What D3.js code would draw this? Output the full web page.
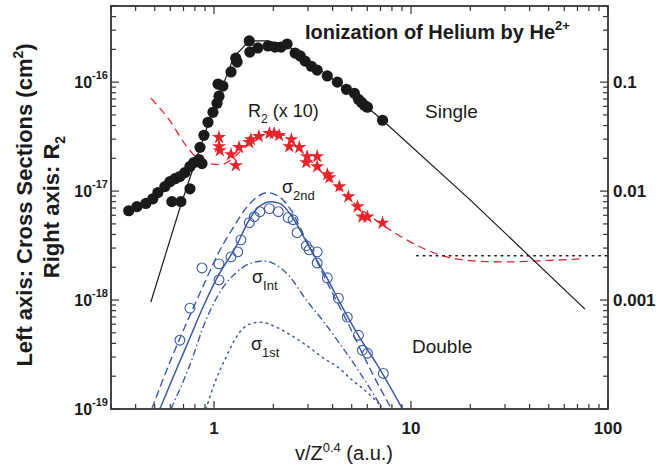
<!DOCTYPE html>
<html><head><meta charset="utf-8">
<script src="https://cdn.jsdelivr.net/npm/d3@7"></script>
<style>
body{margin:0;background:#fff;}
svg{display:block;font-family:"Liberation Sans",Arial,Helvetica,sans-serif;}
</style></head>
<body><svg id="chart" width="661" height="467"></svg>
<script>
// ---------- data (x = v/Z^0.4 in a.u.) ----------
// Single ionization cross sections (cm^2), experiment
const singleExp = [[0.369,6.6e-18],[0.406,7.2e-18],[0.451,7.7e-18],[0.489,8.5e-18],[0.519,9.7e-18],[0.563,1.10e-17],[0.597,1.22e-17],[0.634,1.30e-17],[0.671,1.36e-17],[0.712,1.48e-17],[0.755,1.68e-17],[0.791,1.83e-17],[0.839,1.95e-17],[0.869,1.79e-17],[0.849,2.52e-17],[0.889,3.25e-17],[0.932,4.28e-17],[0.988,5.29e-17],[1.036,6.40e-17],[1.06,7.43e-17],[1.048,9.6e-17],[1.11,9.2e-17],[1.22,1.24e-16],[1.29,1.66e-16],[1.31,1.53e-16],[1.51,2.39e-16],[1.52,1.89e-16],[1.67,2.06e-16],[1.88,2.15e-16],[2.04,2.10e-16],[2.19,2.10e-16],[2.35,2.24e-16],[2.58,1.85e-16],[2.74,1.74e-16],[2.90,1.56e-16],[3.12,1.40e-16],[3.34,1.29e-16],[3.76,1.14e-16],[4.23,1.0e-16],[4.70,8.6e-17],[5.16,7.9e-17],[5.41,6.97e-17],[5.60,6.54e-17],[5.80,6.14e-17],[6.01,5.89e-17],[7.17,4.47e-17],[0.611,8.0e-18],[0.679,8.0e-18],[0.755,1.05e-17]];
// Single ionization theory
const singleTheory = [[0.478,9.6e-19],[0.679,7.5e-18],[0.944,4.37e-17],[1.26,1.70e-16],[1.51,2.39e-16],[1.86,2.39e-16],[2.35,2.19e-16],[2.87,1.66e-16],[3.76,1.16e-16],[4.70,8.6e-17],[7.17,4.47e-17],[19.9,8.35e-18],[76.4,8.26e-19]];
// R2 (x10), right axis values
const r2Exp = [[1.06,0.0311],[1.06,0.0257],[1.07,0.0236],[1.22,0.0217],[1.34,0.0252],[1.29,0.0172],[1.51,0.0280],[1.54,0.0298],[1.69,0.0318],[1.91,0.0339],[2.02,0.0339],[2.14,0.0325],[2.47,0.0298],[2.41,0.0257],[2.71,0.0252],[2.97,0.0208],[3.34,0.0208],[2.94,0.0183],[3.34,0.0168],[3.76,0.0142],[3.85,0.0133],[4.33,0.0110],[4.81,0.0089],[5.35,0.0072],[5.66,0.0058],[6.01,0.0058],[7.17,0.0051]];
const r2Theory = [[0.478,0.0713],[0.59,0.0456],[0.746,0.0241],[0.839,0.0195],[0.944,0.0179],[1.09,0.0175],[1.26,0.0204],[1.51,0.0280],[1.73,0.0332],[1.95,0.0353],[2.27,0.0325],[2.71,0.0241],[3.42,0.0158],[4.33,0.0103],[5.47,0.0070],[7.17,0.0049],[9.49,0.00357],[12.0,0.00289],[15.2,0.00249],[20.6,0.00229],[30.6,0.00224],[45.1,0.00229],[72.1,0.00239]];
const r2Limit = [[10.7,0.00255],[100,0.00255]];
// Double ionization
const doubleExp = [[0.671,4.28e-19],[0.755,8.43e-19],[0.869,1.97e-18],[1.06,1.53e-18],[1.06,2.15e-18],[1.22,2.49e-18],[1.32,2.77e-18],[1.37,3.57e-18],[1.51,5.13e-18],[1.60,5.82e-18],[1.71,6.47e-18],[1.91,6.90e-18],[2.12,6.47e-18],[2.38,5.70e-18],[2.52,5.46e-18],[2.64,4.15e-18],[2.94,3.15e-18],[3.04,2.89e-18],[3.34,2.77e-18],[3.34,2.19e-18],[3.76,1.60e-18],[4.28,1.04e-18],[4.75,6.97e-19],[5.41,4.75e-19],[5.66,3.46e-19],[6.01,3.25e-19],[7.24,2.12e-19]];
const doubleTotal = [[0.531,1e-19],[0.626,2.04e-19],[0.746,4.28e-19],[0.889,9.0e-19],[1.036,1.60e-18],[1.29,3.08e-18],[1.51,5.46e-18],[1.69,7.2e-18],[1.95,8.0e-18],[2.17,7.67e-18],[2.49,5.82e-18],[3.04,3.08e-18],[3.72,1.63e-18],[4.48,8.6e-19],[5.47,4.56e-19],[6.67,2.62e-19],[9.05,1e-19]];
const sigma2nd = [[0.483,1e-19],[0.611,2.98e-19],[0.764,7.59e-19],[0.910,1.53e-18],[1.06,2.77e-18],[1.26,4.71e-18],[1.46,7.05e-18],[1.64,8.71e-18],[1.86,9.68e-18],[2.14,8.89e-18],[2.47,6.61e-18],[2.80,4.24e-18],[3.30,2.34e-18],[3.99,1.16e-18],[4.70,6.55e-19],[5.47,3.69e-19],[6.37,2.12e-19],[7.96,1e-19]];
const sigmaInt = [[0.604,1e-19],[0.746,2.41e-19],[0.910,6.55e-19],[1.09,1.24e-18],[1.29,1.77e-18],[1.51,2.15e-18],[1.80,2.29e-18],[2.07,2.10e-18],[2.41,1.66e-18],[2.94,1.0e-18],[3.55,6.55e-19],[4.33,4.02e-19],[5.28,2.41e-19],[6.37,1.42e-19],[7.16,1e-19]];
const sigma1st = [[0.910,1e-19],[1.02,1.83e-19],[1.15,2.98e-19],[1.34,4.97e-19],[1.51,6.01e-19],[1.73,6.27e-19],[2.07,5.64e-19],[2.41,4.86e-19],[2.94,3.85e-19],[3.55,2.98e-19],[4.33,2.36e-19],[5.04,1.83e-19],[5.60,1.58e-19],[6.37,1.28e-19],[6.92,1.10e-19]];
// tick labels
const xTickLabels = [[1,"1"],[10,"10"],[100,"100"]];
const yLeftTicks = [[1e-16,"-16"],[1e-17,"-17"],[1e-18,"-18"],[1e-19,"-19"]];
const yRightTicks = [[0.1,"0.1"],[0.01,"0.01"],[0.001,"0.001"]];

// ---------- layout ----------
const L=111, R=608, T=6, B=409;
const svg = d3.select("#chart");
const x = d3.scaleLog().domain([0.3,100]).range([L,R]);
const y = d3.scaleLog().domain([1e-19,5e-16]).range([B,T]);
const yR = d3.scaleLog().domain([1e-4,0.5]).range([B,T]);

const BLACK="#1a1a1a", RED="#e8242b", BLUE="#3a5aa8";

svg.append("clipPath").attr("id","clip").append("rect").attr("x",L).attr("y",T).attr("width",R-L).attr("height",B-T);
const g = svg.append("g").attr("clip-path","url(#clip)");

const lineL = d3.line().x(d=>x(d[0])).y(d=>y(d[1])).curve(d3.curveMonotoneX);
const lineR = d3.line().x(d=>x(d[0])).y(d=>yR(d[1])).curve(d3.curveMonotoneX);
const lineLin = d3.line().x(d=>x(d[0])).y(d=>y(d[1]));

// blue theory curves
g.append("path").attr("d",lineL(sigma1st)).attr("fill","none").attr("stroke",BLUE).attr("stroke-width",1.5).attr("stroke-dasharray","1.5,4.5").attr("stroke-linecap","round");
g.append("path").attr("d",lineL(sigmaInt)).attr("fill","none").attr("stroke",BLUE).attr("stroke-width",1.4).attr("stroke-dasharray","7,3,1.5,3");
g.append("path").attr("d",lineL(sigma2nd)).attr("fill","none").attr("stroke",BLUE).attr("stroke-width",1.4).attr("stroke-dasharray","8,4");
g.append("path").attr("d",lineL(doubleTotal)).attr("fill","none").attr("stroke",BLUE).attr("stroke-width",1.5);

// blue open circles
g.selectAll("circle.dbl").data(doubleExp).join("circle").attr("class","dbl")
  .attr("cx",d=>x(d[0])).attr("cy",d=>y(d[1])).attr("r",4.9)
  .attr("fill","none").attr("stroke",BLUE).attr("stroke-width",1.1);

// red R2
g.append("path").attr("d",lineR(r2Theory)).attr("fill","none").attr("stroke",RED).attr("stroke-width",1.3).attr("stroke-dasharray","8,5");
g.append("path").attr("d",d3.line().x(d=>x(d[0])).y(d=>yR(d[1]))(r2Limit)).attr("fill","none").attr("stroke",BLACK).attr("stroke-width",1.5).attr("stroke-dasharray","1.5,5").attr("stroke-linecap","round");
const star = d3.symbol().type(d3.symbolStar).size(62);
g.selectAll("path.star").data(r2Exp).join("path").attr("class","star")
  .attr("d",star).attr("transform",d=>`translate(${x(d[0])},${yR(d[1])})`).attr("fill",RED);

// single
g.append("path").attr("d",lineLin(singleTheory)).attr("fill","none").attr("stroke",BLACK).attr("stroke-width",1.2);
g.selectAll("circle.sgl").data(singleExp).join("circle").attr("class","sgl")
  .attr("cx",d=>x(d[0])).attr("cy",d=>y(d[1])).attr("r",5.6).attr("fill",BLACK);

// ---------- axes / frame ----------
const AX="#333";
svg.append("rect").attr("x",L).attr("y",T).attr("width",R-L).attr("height",B-T).attr("fill","none").attr("stroke",AX).attr("stroke-width",1.8);
const isMajor = v => Math.abs(Math.log10(v)-Math.round(Math.log10(v)))<1e-6;
const tk = svg.append("g").attr("stroke",AX).attr("stroke-width",1.2);
x.ticks().forEach(v=>{
  const len = isMajor(v)?8:5, px=x(v);
  tk.append("line").attr("x1",px).attr("x2",px).attr("y1",B).attr("y2",B-len);
  tk.append("line").attr("x1",px).attr("x2",px).attr("y1",T).attr("y2",T+len);
});
y.ticks().forEach(v=>{
  const len = isMajor(v)?8:5, py=y(v);
  tk.append("line").attr("x1",L).attr("x2",L+len).attr("y1",py).attr("y2",py);
});
yR.ticks().forEach(v=>{
  const len = isMajor(v)?8:5, py=yR(v);
  tk.append("line").attr("x1",R).attr("x2",R-len).attr("y1",py).attr("y2",py);
});

const txt = svg.append("g").attr("fill","#1a1a1a");
xTickLabels.forEach(([v,s])=>{
  txt.append("text").attr("x",x(v)).attr("y",434).attr("text-anchor","middle")
    .attr("font-size",17).attr("font-weight","bold").text(s);
});
yLeftTicks.forEach(([v,s])=>{
  const t = txt.append("text").attr("x",108).attr("y",y(v)+6).attr("text-anchor","end")
    .attr("font-size",16).attr("font-weight","bold");
  t.append("tspan").text("10");
  t.append("tspan").attr("dy",-9).attr("font-size",11).text(s);
});
yRightTicks.forEach(([v,s])=>{
  txt.append("text").attr("x",613).attr("y",yR(v)+6).attr("text-anchor","start")
    .attr("font-size",17).attr("font-weight","bold").text(s);
});

// axis titles
const xt = txt.append("text").attr("x",344).attr("y",460).attr("text-anchor","middle").attr("font-size",20);
xt.append("tspan").text("v/Z");
xt.append("tspan").attr("dy",-8).attr("font-size",13).text("0.4");
xt.append("tspan").attr("dy",8).text(" (a.u.)");

const yt1 = txt.append("text").attr("transform","translate(32,205) rotate(-90)").attr("text-anchor","middle")
  .attr("font-size",22).attr("font-weight","bold");
yt1.append("tspan").text("Left axis: Cross Sections (cm");
yt1.append("tspan").attr("dy",-9).attr("font-size",14).text("2");
yt1.append("tspan").attr("dy",9).text(")");
const yt2 = txt.append("text").attr("transform","translate(59,207) rotate(-90)").attr("text-anchor","middle")
  .attr("font-size",22).attr("font-weight","bold");
yt2.append("tspan").text("Right axis: R");
yt2.append("tspan").attr("dy",6).attr("font-size",14).text("2");

// annotations
const title = txt.append("text").attr("x",305).attr("y",39).attr("font-size",20).attr("font-weight","bold");
title.append("tspan").text("Ionization of Helium by He");
title.append("tspan").attr("dy",-9).attr("font-size",13).text("2+");

txt.append("text").attr("x",425).attr("y",118).attr("font-size",19).text("Single");
txt.append("text").attr("x",412).attr("y",353).attr("font-size",19).text("Double");
const r2l = txt.append("text").attr("x",248).attr("y",117).attr("font-size",18);
r2l.append("tspan").text("R");
r2l.append("tspan").attr("dy",6).attr("font-size",12).text("2");
r2l.append("tspan").attr("dy",-6).text(" (x 10)");

function sigmaLabel(xp, yp, sub){
  const t = txt.append("text").attr("x",xp).attr("y",yp).attr("font-size",18);
  t.append("tspan").text("σ");
  t.append("tspan").attr("dy",7).attr("font-size",13).text(sub);
}
sigmaLabel(282,193,"2nd");
sigmaLabel(252,283,"Int");
sigmaLabel(251,350,"1st");
</script>
</body></html>
